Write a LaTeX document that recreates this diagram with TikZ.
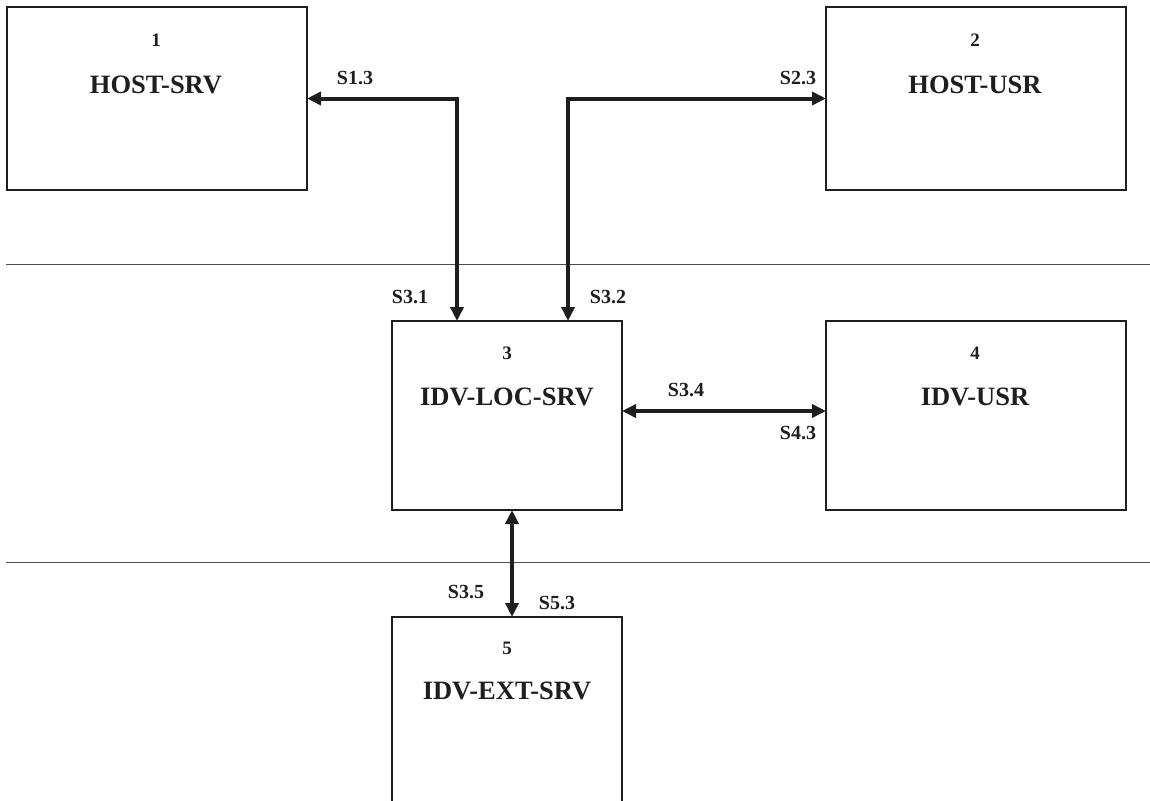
\documentclass[tikz,border=0pt]{standalone}
\usepackage{fontspec}
\setmainfont{Liberation Serif}
\usetikzlibrary{arrows.meta}
\definecolor{ink}{HTML}{1E1E1E}
\tikzset{
  box/.style={draw=ink, line width=1.8pt, rectangle, inner sep=0pt, outer sep=0pt},
  num/.style={text=ink, font=\bfseries\fontsize{19}{22}\selectfont, inner sep=0pt},
  title/.style={text=ink, font=\bfseries\fontsize{26.5}{30}\selectfont, inner sep=0pt},
  lab/.style={text=ink, font=\bfseries\fontsize{20}{23}\selectfont, inner sep=0pt},
  link/.style={draw=ink, line width=4pt, {Triangle[length=14pt,width=13pt]}-{Triangle[length=14pt,width=13pt]}},
  sep/.style={draw=ink!80, line width=0.8pt}
}
\begin{document}
\begin{tikzpicture}[x=1pt,y=-1pt]
\useasboundingbox[fill=white] (0,0) rectangle (1150,800);
% separators
\draw[sep] (6,264) -- (1150,264);
\draw[sep] (6,562) -- (1150,562);
% boxes
\node[box, minimum width=300pt, minimum height=183pt] (b1) at (157,98.5) {};
\node[box, minimum width=300pt, minimum height=183pt] (b2) at (976,98.5) {};
\node[box, minimum width=230pt, minimum height=189pt] (b3) at (507,415.5) {};
\node[box, minimum width=300pt, minimum height=189pt] (b4) at (976,415.5) {};
\node[box, minimum width=230pt, minimum height=200pt] (b5) at (507,717) {};
% box texts
\node[num]   (n1) at (156,40) {1};
\node[title] (t1) at (156,85) {HOST-SRV};
\node[num]   (n2) at (975,40) {2};
\node[title] (t2) at (975,85) {HOST-USR};
\node[num]   (n3) at (507,353) {3};
\node[title] (t3) at (507,397) {IDV-LOC-SRV};
\node[num]   (n4) at (975,353) {4};
\node[title] (t4) at (975,397) {IDV-USR};
\node[num]   (n5) at (507,648) {5};
\node[title] (t5) at (507,691) {IDV-EXT-SRV};
% junctions
\coordinate (j1) at (457,98.5);
\coordinate (j2) at (568,98.5);
\coordinate (j4) at (622,411);
\coordinate (j5) at (512,510);
% connectors
\draw[link] (b1.east) -- (j1) -- (j1 |- b3.north);
\draw[link] (b2.west) -- (j2) -- (j2 |- b3.north);
\draw[link] (j4) -- (j4 -| b4.west);
\draw[link] (j5) -- (j5 |- b5.north);
% labels
\node[lab] (l13) at (355,78) {S1.3};
\node[lab] (l23) at (798,78) {S2.3};
\node[lab] (l31) at (410,297) {S3.1};
\node[lab] (l32) at (608,297) {S3.2};
\node[lab] (l34) at (686,390) {S3.4};
\node[lab] (l43) at (798,433) {S4.3};
\node[lab] (l35) at (466,592) {S3.5};
\node[lab] (l53) at (557,603) {S5.3};
\end{tikzpicture}
\end{document}
